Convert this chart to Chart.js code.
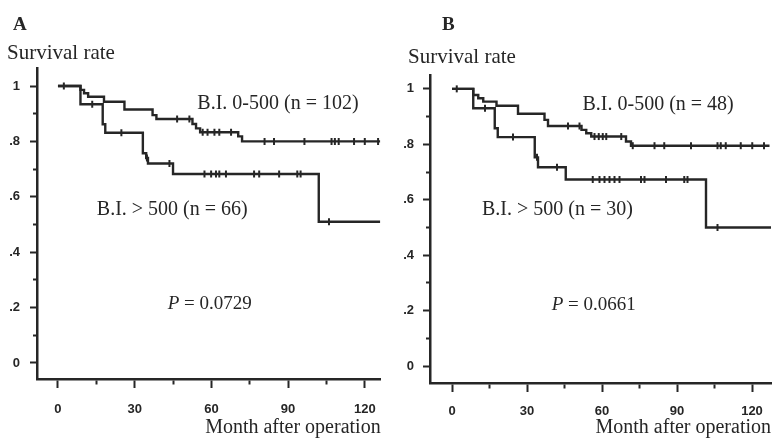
<!DOCTYPE html>
<html>
<head>
<meta charset="utf-8">
<script src="https://cdn.jsdelivr.net/npm/chart.js@4.4.1/dist/chart.umd.min.js"></script>
<style>
  html, body { margin: 0; padding: 0; background: #fff; }
  #wrap { position: relative; width: 777px; height: 440px; overflow: hidden; }
  canvas { position: absolute; top: 0; }
  #panelA { left: 0; }
  #panelB { left: 390px; }
</style>
</head>
<body>
<div id="wrap">
  <canvas id="panelA" width="390" height="440"></canvas>
  <canvas id="panelB" width="387" height="440"></canvas>
</div>
<script>
// Marcas de los ejes
const xTicks = [0, 15, 30, 45, 60, 75, 90, 105, 120];
const xTickLabels = ['0', '', '30', '', '60', '', '90', '', '120'];
const yTicks = [0, 0.1, 0.2, 0.3, 0.4, 0.5, 0.6, 0.7, 0.8, 0.9, 1];
const yTickLabels = ['0', '', '.2', '', '.4', '', '.6', '', '.8', '', '1'];

// Panel A - B.I. 0-500 (n = 102): meses y supervivencia tras cada escalón
const tiemposA1 = [0, 8.8, 10.2, 11.8, 18, 26, 37, 38.5, 52.6, 54, 55.6, 70.5, 72, 126];
const supervA1 = [1, 0.986, 0.974, 0.961, 0.943, 0.915, 0.895, 0.881, 0.863, 0.847, 0.833, 0.818, 0.80, 0.80];
const censuraA1 = [2.3, 46.6, 51.4, 56.6, 58.5, 61.2, 63.1, 67.7, 80.8, 84.5, 96.4, 107, 108.3, 109.8, 115.8, 120, 125.2];

// Panel A - B.I. > 500 (n = 66)
const tiemposA2 = [0, 8.8, 17.5, 18.5, 33.2, 34.5, 35.2, 45, 102, 126];
const supervA2 = [1, 0.934, 0.862, 0.831, 0.757, 0.74, 0.72, 0.682, 0.51, 0.51];
const censuraA2 = [13.4, 24.8, 34.8, 43.6, 57.3, 59.9, 61.8, 63.1, 65.7, 76.7, 78.7, 86.5, 93.6, 94.9, 106];

// Panel B - B.I. 0-500 (n = 48)
const tiemposB1 = [0, 8.5, 10.5, 12.5, 17.8, 26.4, 37, 38.4, 51.8, 53.7, 55.7, 69.6, 71.6, 127];
const supervB1 = [1, 0.978, 0.966, 0.954, 0.939, 0.91, 0.888, 0.866, 0.852, 0.84, 0.828, 0.81, 0.795, 0.795];
const censuraB1 = [1.9, 46.4, 51, 57, 58.7, 60.3, 61.7, 67.7, 72.3, 81, 84.9, 95.6, 106.2, 107.5, 109.5, 115.5, 120.1, 124.8];

// Panel B - B.I. > 500 (n = 30)
const tiemposB2 = [0, 8.5, 17.1, 18.3, 33.1, 34.4, 45.5, 101.6, 127.6];
const supervB2 = [1, 0.93, 0.858, 0.826, 0.753, 0.717, 0.673, 0.50, 0.50];
const censuraB2 = [13.2, 24.4, 34, 42, 56.3, 59, 61, 63, 65, 67, 75.6, 77, 85.6, 92.9, 94.2, 106.2];

const tinta = '#262626';
const serif = '"Liberation Serif", "Times New Roman", serif';
const sans = '"Liberation Sans", Arial, sans-serif';

// Valor de la curva en un tiempo dado (para poner las marcas de censura encima)
function valorEn(tiempos, superv, t) {
    let v = superv[0];
    for (let i = 0; i < tiempos.length; i++) {
        if (tiempos[i] <= t) v = superv[i];
    }
    return v;
}

function puntos(tiempos, superv) {
    return tiempos.map((t, i) => ({ x: t, y: superv[i] }));
}

function marcas(censuras, tiempos, superv) {
    return censuras.map(t => ({ x: t, y: valorEn(tiempos, superv, t) }));
}

// Plugin sencillo para escribir los textos de la figura
const textos = {
    id: 'textos',
    afterDraw(chart, args, opts) {
        const ctx = chart.ctx;
        const escX = chart.scales.x;
        const escY = chart.scales.y;
        ctx.save();
        ctx.fillStyle = tinta;
        ctx.textBaseline = 'middle';
        ctx.textAlign = 'left';
        opts.items.forEach(item => {
            let px = item.datos ? escX.getPixelForValue(item.x) : item.x;
            const py = item.datos ? escY.getPixelForValue(item.y) : item.y;
            item.partes.forEach(p => {
                ctx.font = p.font;
                ctx.fillText(p.texto, px, py);
                px += ctx.measureText(p.texto).width;
            });
        });
        ctx.restore();
    }
};

function crearPanel(id, p) {
    const curva = (t, s) => ({
        data: puntos(t, s), showLine: true, stepped: true,
        borderColor: tinta, borderWidth: 2.4, pointRadius: 0
    });
    const censura = (c, t, s) => ({
        data: marcas(c, t, s), pointStyle: 'line', rotation: 90,
        pointRadius: 3.5, borderColor: tinta, borderWidth: 2
    });

    return new Chart(document.getElementById(id), {
        type: 'scatter',
        data: {
            datasets: [
                curva(p.t1, p.s1),
                curva(p.t2, p.s2),
                censura(p.c1, p.t1, p.s1),
                censura(p.c2, p.t2, p.s2)
            ]
        },
        options: {
            responsive: false,
            animation: false,
            events: [],
            layout: { padding: { top: p.arriba, right: p.derecha, left: 0, bottom: 0 } },
            plugins: {
                legend: { display: false },
                tooltip: { enabled: false },
                textos: { items: p.textos }
            },
            scales: {
                x: {
                    type: 'linear', min: p.xMin, max: p.xMax,
                    afterBuildTicks: s => { s.ticks = xTicks.map(v => ({ value: v })); },
                    afterFit: s => { s.height = p.altoX; },
                    ticks: {
                        autoSkip: false, maxRotation: 0, padding: p.padX, color: tinta,
                        font: { family: sans, size: 13, weight: 'bold' },
                        callback: v => xTickLabels[xTicks.indexOf(v)]
                    },
                    grid: {
                        drawOnChartArea: false, tickLength: 9, tickWidth: 2, tickColor: tinta,
                        // marcas menores más cortas
                        tickBorderDash: c => (c.tick && c.tick.value % 30 !== 0) ? [4, 50] : []
                    },
                    border: { color: tinta, width: 2.5 },
                    title: {
                        display: true, text: 'Month after operation', align: 'end', color: tinta,
                        font: { family: serif, size: 20 }, padding: 0
                    }
                },
                y: {
                    min: p.yMin, max: p.yMax,
                    afterBuildTicks: s => { s.ticks = yTicks.map(v => ({ value: v })); },
                    afterFit: s => { s.width = p.anchoY; },
                    ticks: {
                        autoSkip: false, padding: p.padY, color: tinta,
                        font: { family: sans, size: 13, weight: 'bold' },
                        callback: v => yTickLabels[yTicks.findIndex(t => Math.abs(t - v) < 1e-6)]
                    },
                    grid: {
                        drawOnChartArea: false, tickLength: 7, tickWidth: 2, tickColor: tinta,
                        tickBorderDash: c => (c.tick && Math.round(c.tick.value * 10) % 2 !== 0) ? [0, 3, 4, 50] : []
                    },
                    border: { color: tinta, width: 2.5 }
                }
            }
        },
        plugins: [textos]
    });
}

crearPanel('panelA', {
    t1: tiemposA1, s1: supervA1, c1: censuraA1,
    t2: tiemposA2, s2: supervA2, c2: censuraA2,
    xMin: -8.2, xMax: 126.2, yMin: -0.058, yMax: 1.065,
    arriba: 68, derecha: 8, altoX: 61, anchoY: 37, padX: 14, padY: 10,
    textos: [
        { datos: false, x: 13, y: 25, partes: [{ texto: 'A', font: 'bold 19px ' + serif }] },
        { datos: false, x: 7, y: 53, partes: [{ texto: 'Survival rate', font: '21px ' + serif }] },
        { datos: true, x: 54.5, y: 0.935, partes: [{ texto: 'B.I. 0-500 (n = 102)', font: '20px ' + serif }] },
        { datos: true, x: 15.2, y: 0.553, partes: [{ texto: 'B.I. > 500 (n = 66)', font: '20px ' + serif }] },
        { datos: true, x: 42.9, y: 0.214, partes: [
            { texto: 'P', font: 'italic 19px ' + serif },
            { texto: ' = 0.0729', font: '19px ' + serif }
        ] }
    ]
});

crearPanel('panelB', {
    t1: tiemposB1, s1: supervB1, c1: censuraB1,
    t2: tiemposB2, s2: supervB2, c2: censuraB2,
    xMin: -8.8, xMax: 127.6, yMin: -0.061, yMax: 1.05,
    arriba: 75, derecha: 5, altoX: 57, anchoY: 40, padX: 12, padY: 9,
    textos: [
        { datos: false, x: 52, y: 25, partes: [{ texto: 'B', font: 'bold 19px ' + serif }] },
        { datos: false, x: 18, y: 57, partes: [{ texto: 'Survival rate', font: '21px ' + serif }] },
        { datos: true, x: 52.2, y: 0.942, partes: [{ texto: 'B.I. 0-500 (n = 48)', font: '20px ' + serif }] },
        { datos: true, x: 12, y: 0.563, partes: [{ texto: 'B.I. > 500 (n = 30)', font: '20px ' + serif }] },
        { datos: true, x: 39.9, y: 0.221, partes: [
            { texto: 'P', font: 'italic 19px ' + serif },
            { texto: ' = 0.0661', font: '19px ' + serif }
        ] }
    ]
});
</script>
</body>
</html>
